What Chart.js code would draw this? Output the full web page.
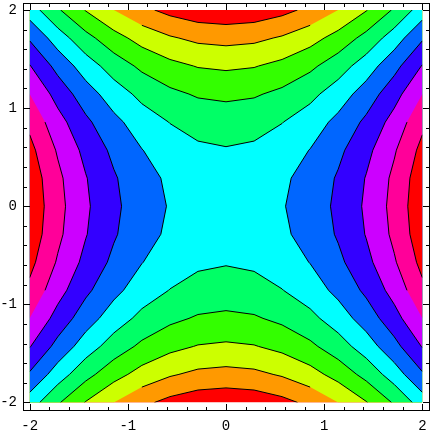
<!DOCTYPE html>
<html>
<head>
<meta charset="utf-8">
<script src="https://cdn.jsdelivr.net/npm/chart.js@4.4.1/dist/chart.umd.min.js"></script>
<style>
  html, body { margin: 0; padding: 0; background: #fff; }
</style>
</head>
<body>
<canvas id="contour-chart" width="432" height="432"></canvas>
<script>
  'use strict';

  // sample grid (15 x 15), rows run from y = -2 up to y = 2
  const gridX = [-2, -1.714, -1.429, -1.143, -0.857, -0.571, -0.286, 0, 0.286, 0.571, 0.857, 1.143, 1.429, 1.714, 2];
  const gridY = [-2, -1.714, -1.429, -1.143, -0.857, -0.571, -0.286, 0, 0.286, 0.571, 0.857, 1.143, 1.429, 1.714, 2];
  const zValues = [
    [0.00, -1.06, -1.96, -2.69, -3.27, -3.67, -3.92, -4.00, -3.92, -3.67, -3.27, -2.69, -1.96, -1.06, 0.00],
    [1.06, 0.00, -0.90, -1.63, -2.21, -2.61, -2.86, -2.94, -2.86, -2.61, -2.21, -1.63, -0.90, 0.00, 1.06],
    [1.96, 0.90, 0.00, -0.73, -1.31, -1.71, -1.96, -2.04, -1.96, -1.71, -1.31, -0.73, 0.00, 0.90, 1.96],
    [2.69, 1.63, 0.73, 0.00, -0.58, -0.98, -1.23, -1.31, -1.23, -0.98, -0.58, 0.00, 0.73, 1.63, 2.69],
    [3.27, 2.21, 1.31, 0.58, 0.00, -0.40, -0.65, -0.73, -0.65, -0.40, 0.00, 0.58, 1.31, 2.21, 3.27],
    [3.67, 2.61, 1.71, 0.98, 0.40, 0.00, -0.25, -0.33, -0.25, 0.00, 0.40, 0.98, 1.71, 2.61, 3.67],
    [3.92, 2.86, 1.96, 1.23, 0.65, 0.25, 0.00, -0.08, 0.00, 0.25, 0.65, 1.23, 1.96, 2.86, 3.92],
    [4.00, 2.94, 2.04, 1.31, 0.73, 0.33, 0.08, 0.00, 0.08, 0.33, 0.73, 1.31, 2.04, 2.94, 4.00],
    [3.92, 2.86, 1.96, 1.23, 0.65, 0.25, 0.00, -0.08, 0.00, 0.25, 0.65, 1.23, 1.96, 2.86, 3.92],
    [3.67, 2.61, 1.71, 0.98, 0.40, 0.00, -0.25, -0.33, -0.25, 0.00, 0.40, 0.98, 1.71, 2.61, 3.67],
    [3.27, 2.21, 1.31, 0.58, 0.00, -0.40, -0.65, -0.73, -0.65, -0.40, 0.00, 0.58, 1.31, 2.21, 3.27],
    [2.69, 1.63, 0.73, 0.00, -0.58, -0.98, -1.23, -1.31, -1.23, -0.98, -0.58, 0.00, 0.73, 1.63, 2.69],
    [1.96, 0.90, 0.00, -0.73, -1.31, -1.71, -1.96, -2.04, -1.96, -1.71, -1.31, -0.73, 0.00, 0.90, 1.96],
    [1.06, 0.00, -0.90, -1.63, -2.21, -2.61, -2.86, -2.94, -2.86, -2.61, -2.21, -1.63, -0.90, 0.00, 1.06],
    [0.00, -1.06, -1.96, -2.69, -3.27, -3.67, -3.92, -4.00, -3.92, -3.67, -3.27, -2.69, -1.96, -1.06, 0.00]
  ];
  const contourLevels = [-3.45, -2.69, -1.92, -1.15, -0.38, 0.38, 1.15, 1.92, 2.69, 3.45];
  const bandColors = ['#ff0000', '#ff9900', '#ccff00', '#33ff00', '#00ff66', '#00ffff',
                      '#0066ff', '#3300ff', '#cc00ff', '#ff0099', '#ff0000'];
  const tickLabels = [-2, -1, 0, 1, 2];
  const minorTicks = [-1.8, -1.6, -1.4, -1.2, -0.8, -0.6, -0.4, -0.2,
                      0.2, 0.4, 0.6, 0.8, 1.2, 1.4, 1.6, 1.8];

  // keep the part of a polygon where z >= level (linear along edges)
  function clipAbove(pts, level) {
    const out = [];
    for (let i = 0; i < pts.length; i++) {
      const a = pts[i];
      const b = pts[(i + 1) % pts.length];
      const ina = a.z >= level;
      const inb = b.z >= level;
      if (ina) out.push(a);
      if (ina !== inb) {
        const t = (level - a.z) / (b.z - a.z);
        out.push({ x: a.x + t * (b.x - a.x), y: a.y + t * (b.y - a.y), z: level });
      }
    }
    return out;
  }

  function cellCorners(i, j) {
    return [
      { x: gridX[j], y: gridY[i], z: zValues[i][j] },
      { x: gridX[j + 1], y: gridY[i], z: zValues[i][j + 1] },
      { x: gridX[j + 1], y: gridY[i + 1], z: zValues[i + 1][j + 1] },
      { x: gridX[j], y: gridY[i + 1], z: zValues[i + 1][j] }
    ];
  }

  const contourPlugin = {
    id: 'contourFill',
    beforeDatasetsDraw(chart) {
      const ctx = chart.ctx;
      const xs = chart.scales.x;
      const ys = chart.scales.y;
      const px = v => xs.getPixelForValue(v);
      const py = v => ys.getPixelForValue(v);
      const x0 = px(gridX[0]), x1 = px(gridX[gridX.length - 1]);
      const y0 = py(gridY[gridY.length - 1]), y1 = py(gridY[0]);

      ctx.save();
      ctx.beginPath();
      ctx.rect(x0, y0, x1 - x0, y1 - y0);
      ctx.clip();

      ctx.fillStyle = bandColors[0];
      ctx.fillRect(x0, y0, x1 - x0, y1 - y0);

      const rows = gridY.length - 1;
      const cols = gridX.length - 1;

      contourLevels.forEach((level, k) => {
        ctx.beginPath();
        for (let i = 0; i < rows; i++) {
          for (let j = 0; j < cols; j++) {
            const poly = clipAbove(cellCorners(i, j), level);
            if (poly.length < 3) continue;
            ctx.moveTo(px(poly[0].x), py(poly[0].y));
            for (let n = 1; n < poly.length; n++) ctx.lineTo(px(poly[n].x), py(poly[n].y));
            ctx.closePath();
          }
        }
        ctx.fillStyle = bandColors[k + 1];
        ctx.fill();
      });

      // contour lines
      ctx.beginPath();
      contourLevels.forEach(level => {
        for (let i = 0; i < rows; i++) {
          for (let j = 0; j < cols; j++) {
            const c = cellCorners(i, j);
            const hits = [];
            for (let e = 0; e < 4; e++) {
              const a = c[e], b = c[(e + 1) % 4];
              if ((a.z - level) * (b.z - level) < 0) {
                const t = (level - a.z) / (b.z - a.z);
                hits.push([a.x + t * (b.x - a.x), a.y + t * (b.y - a.y)]);
              }
            }
            for (let h = 0; h + 1 < hits.length; h += 2) {
              ctx.moveTo(px(hits[h][0]), py(hits[h][1]));
              ctx.lineTo(px(hits[h + 1][0]), py(hits[h + 1][1]));
            }
          }
        }
      });
      ctx.strokeStyle = '#000';
      ctx.lineWidth = 1;
      ctx.stroke();
      ctx.restore();
    },
    afterDraw(chart) {
      const ctx = chart.ctx;
      const { left, top, right, bottom } = chart.chartArea;
      const xs = chart.scales.x;
      const ys = chart.scales.y;
      ctx.save();
      ctx.strokeStyle = '#000';
      ctx.lineWidth = 1;
      ctx.strokeRect(left + 0.5, top + 0.5, right - left - 1, bottom - top - 1);

      ctx.beginPath();
      const tick = (v, len) => {
        const x = Math.round(xs.getPixelForValue(v)) + 0.5;
        ctx.moveTo(x, bottom); ctx.lineTo(x, bottom - len);
        ctx.moveTo(x, top); ctx.lineTo(x, top + len);
        const y = Math.round(ys.getPixelForValue(v)) + 0.5;
        ctx.moveTo(left, y); ctx.lineTo(left + len, y);
        ctx.moveTo(right, y); ctx.lineTo(right - len, y);
      };
      tickLabels.forEach(v => tick(v, 7));
      minorTicks.forEach(v => tick(v, 4));
      ctx.stroke();
      ctx.restore();
    }
  };

  const tickFont = { family: 'Liberation Mono', size: 14 };

  new Chart(document.getElementById('contour-chart'), {
    type: 'scatter',
    data: { datasets: [{ data: [], pointRadius: 0 }] },
    options: {
      responsive: false,
      animation: false,
      devicePixelRatio: 1,
      layout: { padding: { top: 3, right: 2, left: 0, bottom: 0 } },
      plugins: { legend: { display: false }, tooltip: { enabled: false } },
      scales: {
        x: {
          type: 'linear',
          min: -2.068,
          max: 2.078,
          grid: { display: false, drawTicks: false },
          border: { display: false },
          ticks: { font: tickFont, color: '#000', padding: 7, maxRotation: 0, autoSkip: false },
          afterBuildTicks: s => { s.ticks = tickLabels.map(v => ({ value: v })); },
          afterFit: s => { s.height = 21; s.paddingLeft = 0; s.paddingRight = 0; }
        },
        y: {
          type: 'linear',
          min: -2.087,
          max: 2.071,
          grid: { display: false, drawTicks: false },
          border: { display: false },
          ticks: { font: tickFont, color: '#000', padding: 6, autoSkip: false },
          afterBuildTicks: s => { s.ticks = tickLabels.map(v => ({ value: v })); },
          afterFit: s => { s.width = 23; s.paddingTop = 0; s.paddingBottom = 0; }
        }
      }
    },
    plugins: [contourPlugin]
  });
</script>
</body>
</html>
